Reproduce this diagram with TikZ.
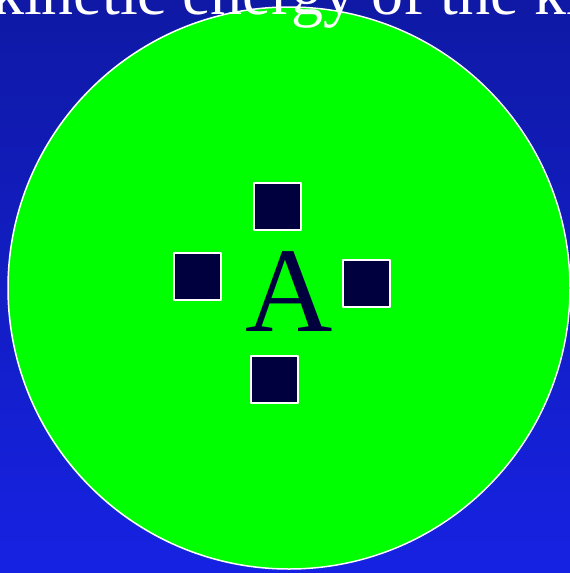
\documentclass[tikz,border=0pt]{standalone}
\usepackage{fontspec}
\setmainfont{Liberation Serif}
\definecolor{bgtop}{RGB}{15,25,165}
\definecolor{bgbot}{RGB}{22,34,226}
\definecolor{ballgreen}{RGB}{0,255,0}
\definecolor{navy}{RGB}{0,0,62}
\tikzset{
  charge/.style={rectangle,draw=white,line width=2pt,fill=navy,
    minimum size=47pt,inner sep=0pt}
}
\begin{document}
\begin{tikzpicture}[x=1pt,y=-1pt,line cap=round,line join=round]
    \clip (0,0) rectangle (570,573);
    \shade[top color=bgtop,bottom color=bgbot] (0,0) rectangle (570,573);

    \coordinate (O) at (289,288);
    \draw[white,line width=1.5pt,fill=ballgreen] (O) circle (281);

    \node[charge] (qt) at (277,206) {};
    \node[charge] (ql) at (197,276.5) {};
    \node[charge] (qr) at (366.5,283) {};
    \node[charge] (qb) at (274,379) {};

    \node[anchor=base,inner sep=0pt,text=navy,
      font=\fontsize{121}{121}\selectfont] (atom) at (289,331) {A};

    \node[anchor=base west,inner sep=0pt,text=white,
      font=\fontsize{64}{64}\selectfont] (title) at (-8,14) {kinetic energy of the ki};
\end{tikzpicture}
\end{document}
